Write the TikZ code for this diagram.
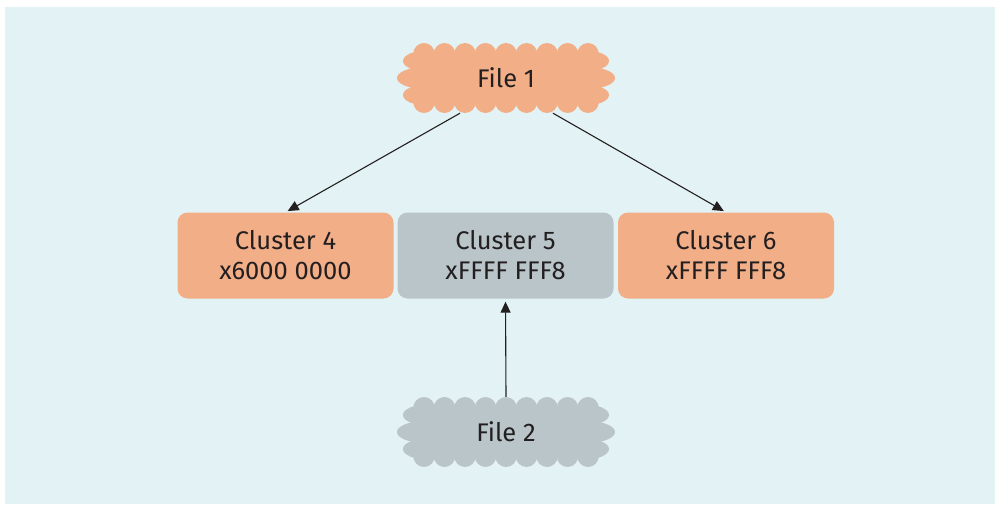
\documentclass[tikz,border=0pt]{standalone}
\usepackage{fontspec}
\setmainfont{Fira Sans}
\usetikzlibrary{arrows.meta}
\definecolor{bgblue}{HTML}{E3F2F4}
\definecolor{peach}{HTML}{F2AE87}
\definecolor{slate}{HTML}{B9C5C9}
\definecolor{ink}{HTML}{231F20}

\tikzset{
  cluster/.style={rounded corners=10pt, minimum width=216pt, minimum height=86pt,
    inner sep=0pt, align=center, text=ink, font=\fontsize{25.5}{30}\selectfont},
  filelabel/.style={minimum width=216pt, minimum height=70pt, inner sep=0pt,
    text=ink, font=\fontsize{25.5}{30}\selectfont},
  link/.style={draw=ink, line width=1.1pt, -{Triangle[length=11pt,width=10pt]}},
  % scalloped cloud built from overlapping filled ellipses
  pics/puff/.style={code={
    \fill[#1] (-92,-25) rectangle (92,25);
    \foreach \k in {-4,...,4}{
      \fill[#1] (\k*20.5,-24) ellipse [x radius=10.8pt, y radius=11pt];
      \fill[#1] (\k*20.5,24) ellipse [x radius=10.8pt, y radius=11pt];
    }
    \foreach \s in {-1,1}{
      \fill[#1] (\s*84,0) ellipse [x radius=25pt, y radius=10.5pt];
      \fill[#1] (\s*79,-17) ellipse [x radius=24pt, y radius=10.5pt];
      \fill[#1] (\s*79,17) ellipse [x radius=24pt, y radius=10.5pt];
    }
  }}
}

\begin{document}
\begin{tikzpicture}[x=1pt,y=-1pt]
  \useasboundingbox (0,0) rectangle (995,505);
  \fill[bgblue] (5,7) rectangle (995,504);

  % files
  \pic at (506,78) {puff=peach};
  \node[filelabel] (file1) at (506,78) {File 1};
  \pic at (506,432) {puff=slate};
  \node[filelabel] (file2) at (506,432) {File 2};

  % clusters
  \node[cluster, fill=peach] (c4) at (285.5,255.5) {Cluster 4\\x6000 0000};
  \node[cluster, fill=slate] (c5) at (505.5,255.5) {Cluster 5\\xFFFF FFF8};
  \node[cluster, fill=peach] (c6) at (726,255.5) {Cluster 6\\xFFFF FFF8};

  % links
  \draw[link, shorten >=2.5pt] ([xshift=-46pt]file1.south) -- (c4.north);
  \draw[link, shorten >=2.5pt] ([xshift=47pt]file1.south) -- (c6.north);
  \draw[link, shorten >=3pt] (file2.north) -- (c5.south);
\end{tikzpicture}
\end{document}
